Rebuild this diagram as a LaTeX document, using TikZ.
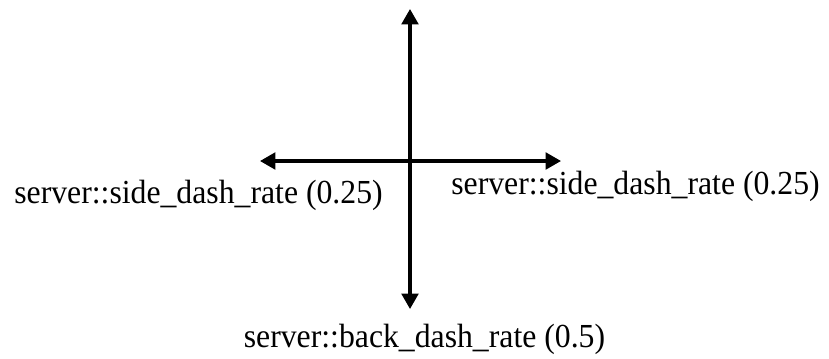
\documentclass[tikz,border=0pt]{standalone}
\usepackage{fontspec}
\setmainfont{Liberation Serif}
\usetikzlibrary{arrows.meta}
\tikzset{
  axisarrow/.style={line width=2.3pt, {Triangle[width=12.5pt,length=11.5pt]}-{Triangle[width=12.5pt,length=11.5pt]}},
  ratelabel/.style={anchor=base, inner sep=0pt, font=\fontsize{23.8pt}{28pt}\selectfont}
}
\newcommand{\tallertext}[1]{\scalebox{1}[1.06]{#1}}
\begin{document}
\begin{tikzpicture}[x=0.75pt, y=-0.75pt]
  \useasboundingbox (0,0) rectangle (829,358);
  % arrow end points
  \coordinate (top) at (410,9);
  \coordinate (bottom) at (410,309);
  \coordinate (left) at (260,161);
  \coordinate (right) at (561,161);
  % the two axes
  \draw[axisarrow] (top) -- (bottom);
  \draw[axisarrow] (left) -- (right);
  % rate labels
  \node[ratelabel] (sideleft) at (198.5,203) {\tallertext{server::side\_dash\_rate (0.25)}};
  \node[ratelabel] (sideright) at (635.5,194) {\tallertext{server::side\_dash\_rate (0.25)}};
  \node[ratelabel] (back) at (424.5,347) {\tallertext{server::back\_dash\_rate (0.5)}};
\end{tikzpicture}
\end{document}
